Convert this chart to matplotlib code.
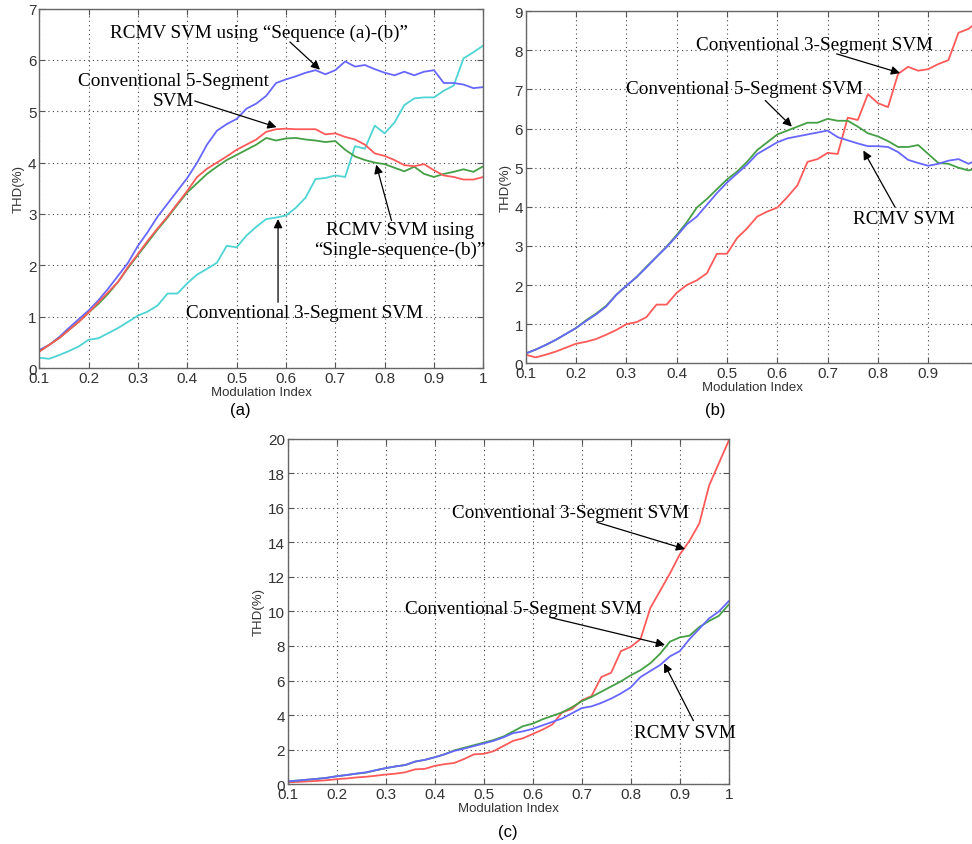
import numpy as np
import matplotlib
matplotlib.use("Agg")
import matplotlib.pyplot as plt

# Modulation index samples (shared by all three panels)
m_index = np.round(np.arange(0.10, 1.0001, 0.02), 2)

# ---- Panel (a) THD (%) ----
a_seq_ab = [0.35, 0.45, 0.60, 0.78, 0.95, 1.12, 1.32, 1.55, 1.80, 2.05, 2.38, 2.65, 2.95, 3.20,
            3.45, 3.70, 4.00, 4.35, 4.62, 4.75, 4.85, 5.05, 5.15, 5.30, 5.55, 5.62, 5.68, 5.75,
            5.80, 5.72, 5.80, 5.97, 5.87, 5.90, 5.82, 5.75, 5.70, 5.77, 5.70, 5.77, 5.80, 5.55,
            5.55, 5.52, 5.45, 5.47]
a_conv5 = [0.32, 0.45, 0.58, 0.74, 0.90, 1.08, 1.28, 1.48, 1.68, 1.97, 2.22, 2.48, 2.72, 2.95,
           3.20, 3.45, 3.72, 3.88, 4.00, 4.12, 4.25, 4.35, 4.45, 4.60, 4.65, 4.66, 4.65, 4.65,
           4.65, 4.55, 4.57, 4.50, 4.45, 4.35, 4.18, 4.13, 4.05, 3.95, 3.93, 3.97, 3.85, 3.75,
           3.72, 3.67, 3.67, 3.72]
a_single_b = [0.32, 0.45, 0.58, 0.74, 0.90, 1.08, 1.25, 1.45, 1.68, 1.95, 2.20, 2.45, 2.70, 2.93,
              3.18, 3.42, 3.60, 3.78, 3.92, 4.05, 4.15, 4.25, 4.35, 4.48, 4.43, 4.47, 4.48, 4.45,
              4.43, 4.40, 4.42, 4.25, 4.12, 4.05, 4.00, 3.97, 3.90, 3.83, 3.92, 3.78, 3.72, 3.78,
              3.82, 3.87, 3.82, 3.93]
a_conv3 = [0.20, 0.18, 0.25, 0.33, 0.42, 0.55, 0.58, 0.68, 0.78, 0.90, 1.02, 1.10, 1.22, 1.45,
           1.45, 1.65, 1.82, 1.93, 2.05, 2.38, 2.35, 2.58, 2.75, 2.90, 2.93, 2.97, 3.12, 3.32,
           3.68, 3.70, 3.75, 3.72, 4.32, 4.27, 4.72, 4.57, 4.78, 5.12, 5.25, 5.27, 5.27, 5.40,
           5.50, 6.03, 6.15, 6.28]

# ---- Panel (b) THD (%) ----
b_rcmv = [0.25, 0.35, 0.47, 0.60, 0.75, 0.90, 1.08, 1.25, 1.45, 1.75, 1.98, 2.20, 2.45, 2.72,
          2.97, 3.25, 3.55, 3.75, 4.05, 4.35, 4.62, 4.85, 5.08, 5.35, 5.50, 5.65, 5.75, 5.80,
          5.85, 5.90, 5.95, 5.78, 5.70, 5.62, 5.55, 5.55, 5.53, 5.40, 5.20, 5.12, 5.05, 5.10,
          5.18, 5.22, 5.10, 5.22]
b_conv5 = [0.25, 0.35, 0.47, 0.60, 0.75, 0.90, 1.10, 1.27, 1.47, 1.75, 1.98, 2.20, 2.47, 2.72,
           2.98, 3.28, 3.60, 3.98, 4.20, 4.45, 4.70, 4.90, 5.15, 5.45, 5.65, 5.85, 5.95, 6.05,
           6.15, 6.15, 6.25, 6.20, 6.20, 6.05, 5.88, 5.80, 5.68, 5.53, 5.53, 5.58, 5.35, 5.12,
           5.10, 5.00, 4.93, 5.00]
b_conv3 = [0.22, 0.15, 0.22, 0.30, 0.40, 0.50, 0.55, 0.62, 0.73, 0.85, 1.00, 1.05, 1.18, 1.50,
           1.50, 1.80, 2.00, 2.12, 2.30, 2.80, 2.80, 3.20, 3.45, 3.75, 3.88, 3.98, 4.25, 4.55,
           5.15, 5.22, 5.38, 5.35, 6.28, 6.22, 6.88, 6.65, 6.55, 7.40, 7.58, 7.48, 7.52, 7.65,
           7.75, 8.45, 8.55, 8.75]

# ---- Panel (c) THD (%) ----
c_conv3 = [0.10, 0.12, 0.15, 0.18, 0.22, 0.28, 0.32, 0.38, 0.42, 0.48, 0.55, 0.60, 0.68, 0.85,
           0.88, 1.05, 1.15, 1.22, 1.45, 1.72, 1.75, 1.90, 2.20, 2.50, 2.65, 2.90, 3.15, 3.45,
           4.15, 4.35, 4.85, 5.10, 6.20, 6.45, 7.70, 7.95, 8.40, 10.2, 11.2, 12.2, 13.3, 14.1,
           15.1, 17.3, 18.6, 19.9]
c_conv5 = [0.15, 0.20, 0.25, 0.30, 0.36, 0.45, 0.52, 0.60, 0.66, 0.80, 0.92, 1.02, 1.10, 1.30,
           1.40, 1.55, 1.72, 1.95, 2.10, 2.25, 2.40, 2.55, 2.75, 3.05, 3.35, 3.50, 3.75, 3.95,
           4.15, 4.45, 4.80, 5.05, 5.35, 5.65, 5.95, 6.30, 6.60, 7.00, 7.55, 8.25, 8.50, 8.60,
           9.10, 9.45, 9.75, 10.4]
c_rcmv = [0.15, 0.20, 0.25, 0.30, 0.36, 0.45, 0.52, 0.60, 0.68, 0.80, 0.92, 1.02, 1.10, 1.30,
          1.40, 1.55, 1.72, 1.92, 2.05, 2.20, 2.35, 2.50, 2.70, 2.95, 3.05, 3.20, 3.40, 3.60,
          3.80, 4.10, 4.40, 4.50, 4.70, 4.95, 5.25, 5.60, 6.20, 6.55, 6.90, 7.40, 7.70, 8.40,
          9.00, 9.60, 10.0, 10.6]

x_ticks = [0.1, 0.2, 0.3, 0.4, 0.5, 0.6, 0.7, 0.8, 0.9, 1.0]
x_tick_labels = ["0.1", "0.2", "0.3", "0.4", "0.5", "0.6", "0.7", "0.8", "0.9", "1"]

BLUE = "#6767ff"
RED = "#ff5a5a"
GREEN = "#45a045"
CYAN = "#4fd4d4"

SANS = "Liberation Sans"
SERIF = "Liberation Serif"
ANN_SIZE = 13.8
LW = 1.3

fig = plt.figure(figsize=(9.72, 8.45), dpi=100)


def style_axes(ax, ymax, ystep):
    ax.set_xlim(0.1, 1.0)
    ax.set_ylim(0, ymax)
    ax.set_xticks(x_ticks)
    ax.set_xticklabels(x_tick_labels)
    ax.set_yticks(np.arange(0, ymax + 0.001, ystep))
    ax.grid(True, linestyle=(0, (1, 3)), color="#444444", linewidth=0.8)
    ax.set_axisbelow(True)
    ax.tick_params(direction="in", length=4, top=True, right=True, color="#555555",
                   labelsize=11, pad=2)
    for lab in ax.get_xticklabels() + ax.get_yticklabels():
        lab.set_fontfamily(SANS)
        lab.set_color("#333333")
    for s in ax.spines.values():
        s.set_color("#666666")
        s.set_linewidth(1.0)
    ax.set_xlabel("Modulation Index", fontfamily=SANS, fontsize=9.5, color="#333333",
                  labelpad=1)
    ax.set_ylabel("THD(%)", fontfamily=SANS, fontsize=9.5, color="#333333", labelpad=2)


def label(ax, text, xy_text, tail, head):
    ax.text(xy_text[0], xy_text[1], text, fontfamily=SERIF, fontsize=ANN_SIZE,
            ha="center", va="center", multialignment="center", zorder=5)
    ax.annotate("", xy=head, xytext=tail,
                arrowprops=dict(arrowstyle="-|>", color="k", lw=0.9,
                                mutation_scale=13, shrinkA=0, shrinkB=0),
                zorder=6)


# ---------- (a) ----------
ax_a = fig.add_axes([0.0404, 0.5633, 0.4568, 0.4254])
ax_a.plot(m_index, a_conv3, color=CYAN, lw=LW)
ax_a.plot(m_index, a_seq_ab, color=BLUE, lw=LW)
ax_a.plot(m_index, a_single_b, color=GREEN, lw=LW)
ax_a.plot(m_index, a_conv5, color=RED, lw=LW)
style_axes(ax_a, 7, 1)
label(ax_a, "RCMV SVM using \u201cSequence (a)-(b)\u201d", (0.545, 6.54), (0.608, 6.35), (0.669, 5.81))
label(ax_a, "Conventional 5-Segment\nSVM", (0.371, 5.40), (0.415, 5.20), (0.581, 4.69))
label(ax_a, "RCMV SVM using\n\u201cSingle-sequence-(b)\u201d", (0.831, 2.51), (0.814, 2.87), (0.783, 3.96))
label(ax_a, "Conventional 3-Segment SVM", (0.637, 1.09), (0.584, 1.28), (0.584, 2.90))
fig.text(240 / 972, 1 - 410 / 845, "(a)", fontfamily=SANS, fontsize=12, ha="center", va="center")

# ---------- (b) ----------
ax_b = fig.add_axes([0.5408, 0.5689, 0.4660, 0.4166])
ax_b.plot(m_index, b_conv3, color=RED, lw=LW)
ax_b.plot(m_index, b_conv5, color=GREEN, lw=LW)
ax_b.plot(m_index, b_rcmv, color=BLUE, lw=LW)
style_axes(ax_b, 9, 1)
label(ax_b, "Conventional 3-Segment SVM", (0.673, 8.15), (0.718, 7.91), (0.844, 7.42))
label(ax_b, "Conventional 5-Segment SVM", (0.534, 7.02), (0.576, 6.72), (0.629, 6.05))
label(ax_b, "RCMV SVM", (0.851, 3.71), (0.834, 3.99), (0.771, 5.44))
fig.text(715 / 972, 1 - 410 / 845, "(b)", fontfamily=SANS, fontsize=12, ha="center", va="center")

# ---------- (c) ----------
ax_c = fig.add_axes([0.2960, 0.0710, 0.4537, 0.4083])
ax_c.plot(m_index, c_conv3, color=RED, lw=LW)
ax_c.plot(m_index, c_conv5, color=GREEN, lw=LW)
ax_c.plot(m_index, c_rcmv, color=BLUE, lw=LW)
style_axes(ax_c, 20, 2)
label(ax_c, "Conventional 3-Segment SVM", (0.678, 15.75), (0.731, 15.17), (0.911, 13.62))
label(ax_c, "Conventional 5-Segment SVM", (0.582, 10.20), (0.635, 9.66), (0.870, 8.06))
label(ax_c, "RCMV SVM", (0.911, 3.0), (0.928, 3.67), (0.868, 7.0))
fig.text(508 / 972, 1 - 833 / 845, "(c)", fontfamily=SANS, fontsize=12, ha="center", va="center")

fig.savefig("out.png", dpi=100, facecolor="white")
